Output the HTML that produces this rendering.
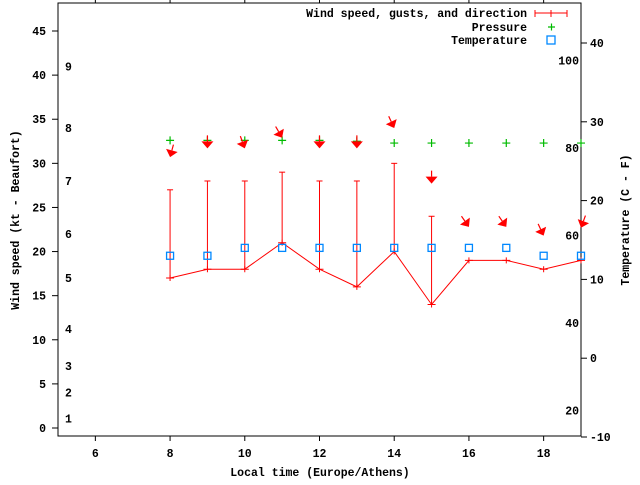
<!DOCTYPE html>
<html><head><meta charset="utf-8"><style>
body{margin:0;background:#fff}
svg text{font-family:"Liberation Mono",monospace;font-weight:bold;font-size:11.5px;fill:#000}
</style></head><body>
<svg width="640" height="480" xmlns="http://www.w3.org/2000/svg">
<g id="axes"></g>
<g id="marks"></g>
</svg>
<script>
const hours=[8,9,10,11,12,13,14,15,16,17,18,19];
const speed=[17,18,18,21,18,16,20,14,19,19,18,19];
const gust=[27,28,28,29,28,28,30,24,null,null,null,null];
const pressure=[32.6,32.6,32.6,32.6,32.6,32.5,32.3,32.3,32.3,32.3,32.3,32.3];
const temperature=[13,13,14,14,14,14,14,14,14,14,13,13];
const arrowLevel=[30.7,31.7,31.7,32.9,31.7,31.7,34,27.7,22.8,22.8,21.8,22.7];
const arrowAngle=[-15,0,20,30,0,0,25,0,35,35,25,-20];
const xTicks=[6,8,10,12,14,16,18];
const yTicks=[0,5,10,15,20,25,30,35,40,45];
const tTicks=[-10,0,10,20,30,40];
const bftLabels=[1,2,3,4,5,6,7,8,9];
const bftKt=[1.1,4,7,11.2,17,22,28,34,41];
const fLabels=[20,40,60,80,100];
const L=58,R=581,T=3,B=436;
const X=h=>L+(h-5)*(R-L)/14;
const Y=v=>428-v*8.822;
const TY=c=>437-(c+10)*7.88;
const ns="http://www.w3.org/2000/svg";
const ax=document.getElementById('axes'),mk=document.getElementById('marks');
function el(p,t,a,txt){const e=document.createElementNS(ns,t);for(const k in a)e.setAttribute(k,a[k]);if(txt!==undefined)e.textContent=txt;p.appendChild(e);return e;}
let f=el(ax,'rect',{x:L,y:T,width:R-L,height:B-T,fill:'none',stroke:'#000','stroke-width':1});

xTicks.forEach(h=>{
 el(ax,'line',{x1:X(h),x2:X(h),y1:B,y2:B+5,stroke:'#000'});
 el(ax,'line',{x1:X(h),x2:X(h),y1:T,y2:T-4,stroke:'#000'});
 let t=el(ax,'text',{x:X(h),y:B+21,'text-anchor':'middle'},h);
 
});
yTicks.forEach(v=>{
 el(ax,'line',{x1:L-6,x2:L,y1:Y(v),y2:Y(v),stroke:'#000'});
 let t=el(ax,'text',{x:46,y:Y(v)+4,'text-anchor':'end'},v);
 
});
tTicks.forEach(v=>{
 el(ax,'line',{x1:R,x2:R+6,y1:TY(v),y2:TY(v),stroke:'#000'});
 let t=el(ax,'text',{x:590,y:TY(v)+4},v);
 
});
bftLabels.forEach((b,i)=>{
 let t=el(ax,'text',{x:65,y:Y(bftKt[i])+4},b);
 
});
fLabels.forEach(F=>{
 let t=el(ax,'text',{x:579,y:TY((F-32)*5/9)+4,'text-anchor':'end'},F);
 
});
let xt=el(ax,'text',{x:320,y:476,'text-anchor':'middle'},'Local time (Europe/Athens)');

let yt=el(ax,'text',{x:0,y:0,'text-anchor':'middle',transform:'translate(19,220) rotate(-90)'},'Wind speed (kt - Beaufort)');

let y2=el(ax,'text',{x:0,y:0,'text-anchor':'middle',transform:'translate(629,220) rotate(-90)'},'Temperature (C - F)');

// legend
const lg=[['Wind speed, gusts, and direction',13],['Pressure',27],['Temperature',40]];
lg.forEach(l=>{let t=el(ax,'text',{x:527,y:l[1]+4,'text-anchor':'end'},l[0]);
 });
el(ax,'line',{x1:535,x2:567,y1:13,y2:13,stroke:'red'});
[535,551,567].forEach(x=>el(ax,'line',{x1:x,x2:x,y1:10,y2:17,stroke:'red'}));
el(ax,'path',{d:'M548 27h7M551.5 23.5v7',stroke:'#0b0','stroke-width':1.2});
el(ax,'rect',{x:547,y:36,width:8,height:8,fill:'none',stroke:'#08f','stroke-width':1.3});
// speed line
let pts=hours.map((h,i)=>X(h)+','+Y(speed[i])).join(' ');
let pl=el(mk,'polyline',{points:pts,fill:'none',stroke:'red','stroke-width':1});

hours.forEach((h,i)=>{
 const x=X(h);
 el(mk,'path',{d:`M${x-4} ${Y(speed[i])}h8M${x} ${Y(speed[i])-3}v6`,stroke:'red'});
 if(gust[i]!==null){
  let g=el(mk,'line',{x1:x,x2:x,y1:Y(speed[i]),y2:Y(gust[i]),stroke:'red'});
  
  el(mk,'line',{x1:x-3,x2:x+3,y1:Y(gust[i]),y2:Y(gust[i]),stroke:'red'});
 }
 let p=el(mk,'path',{d:`M${x-4} ${Y(pressure[i])}h8M${x} ${Y(pressure[i])-4}v8`,stroke:'#0b0','stroke-width':1.2});
 
 let s=el(mk,'rect',{x:x-3.5,y:TY(temperature[i])-3.5,width:7,height:7,fill:'none',stroke:'#08f','stroke-width':1.3});
 
 const hy=Y(arrowLevel[i]),a=arrowAngle[i]*Math.PI/180;
 const dx=Math.sin(a),dy=Math.cos(a);
 const tx=x-dx*13,ty=hy-dy*13;
 const bx=x-dx*7,by=hy-dy*7;
 const px=-dy,py=dx;
 let ar=el(mk,'g',{});
 
 el(ar,'line',{x1:tx,y1:ty,x2:bx,y2:by,stroke:'red','stroke-width':1.2});
 el(ar,'polygon',{points:`${x},${hy} ${bx+px*6},${by+py*6} ${bx-px*6},${by-py*6}`,fill:'red'});
});
</script>
</body></html>
